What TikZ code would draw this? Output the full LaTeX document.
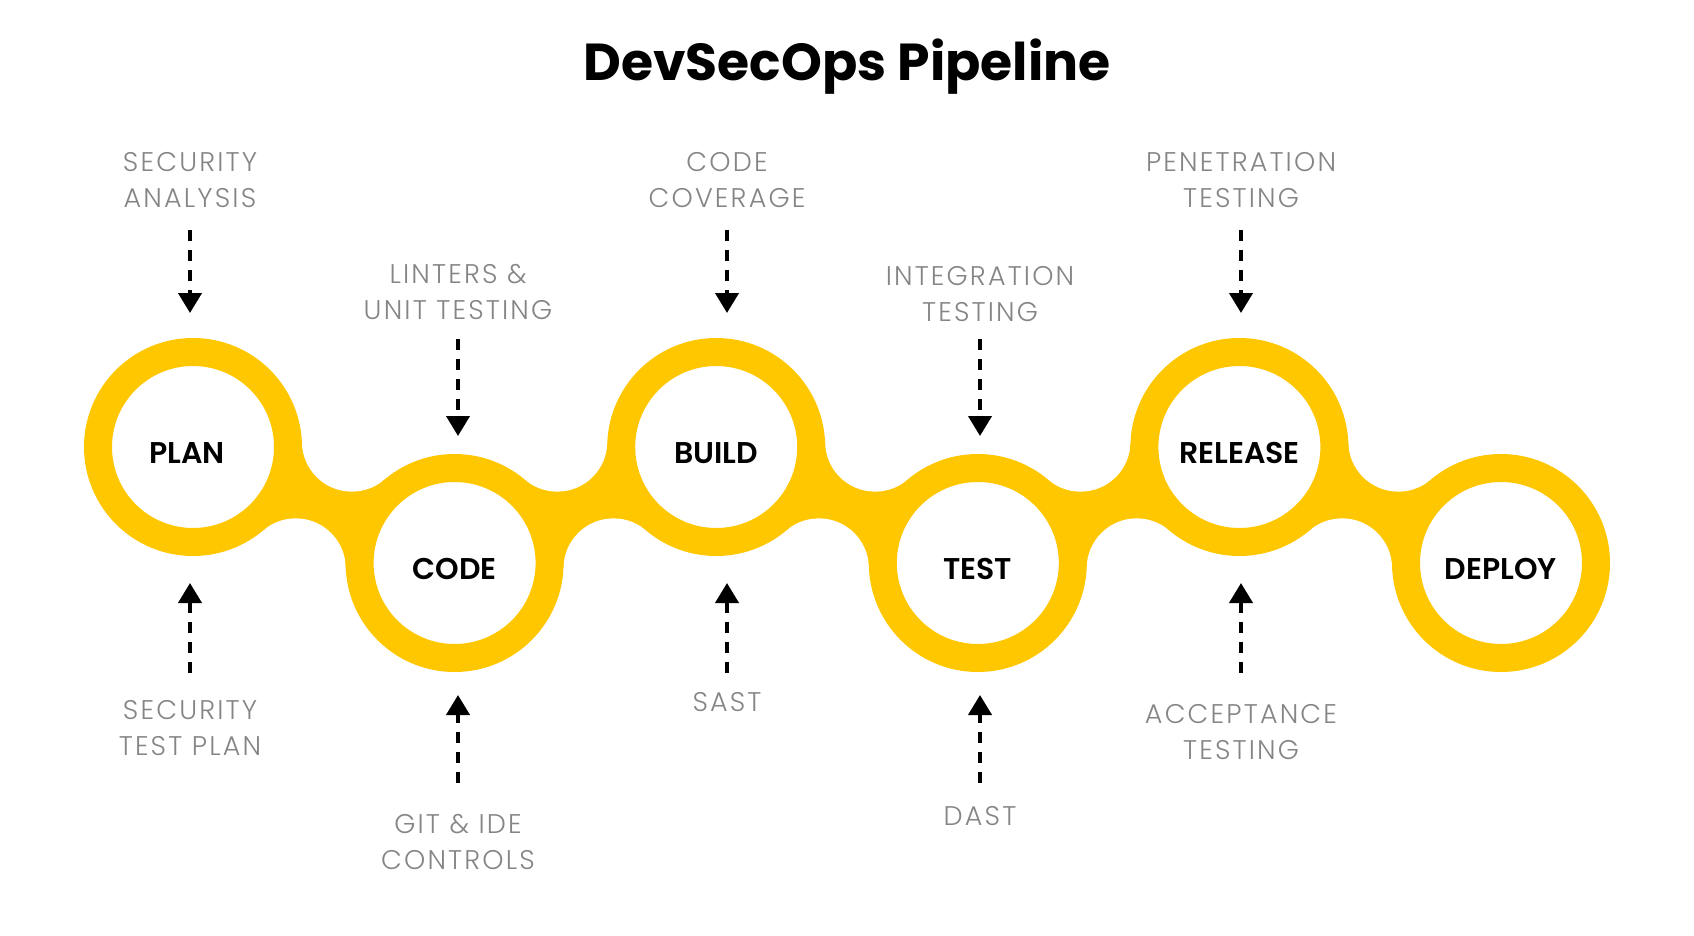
\documentclass[tikz,border=0pt]{standalone}
\usepackage{fontspec}
\setmainfont{Poppins}
\newfontfamily\lightfont{Poppins Light}[LetterSpace=8]
\newfontfamily\stagefont{Poppins SemiBold}
\usetikzlibrary{positioning,calc,backgrounds,arrows.meta}
\definecolor{pipeyellow}{HTML}{FFC700}
\definecolor{notegray}{HTML}{858585}

\tikzset{
  stage/.style={circle,draw=pipeyellow,line width=28pt,fill=white,minimum size=190pt,
    inner sep=0pt,text height=32pt,text depth=0pt,font=\stagefont\fontsize{30}{36}\selectfont},
  note/.style={align=center,inner sep=0pt,text=notegray,
    font=\lightfont\fontsize{27}{36}\selectfont},
  feed/.style={-{Triangle[width=23pt,length=20pt]},line width=4pt,dash pattern=on 11pt off 9pt},
}

\begin{document}
\begin{tikzpicture}[x=1pt,y=-1pt,on grid]
   \useasboundingbox (0,0) rectangle (1694,936);
   \node[font=\bfseries\fontsize{52}{60}\selectfont,anchor=base] (title) at (847,81) {DevSecOps Pipeline};

   % Stufen
   \node[stage] (plan) at (193,447) {PLAN\kern12pt};
   \node[stage] (code) [below right=116pt and 261.6pt of plan] {CODE};
   \node[stage] (build) [above right=116pt and 261.6pt of code] {BUILD};
   \node[stage] (test) [below right=116pt and 261.6pt of build] {TEST};
   \node[stage] (release) [above right=116pt and 261.6pt of test] {RELEASE};
   \node[stage] (deploy) [below right=116pt and 261.6pt of release] {DEPLOY};

   % Verbindungen
   \begin{scope}[on background layer]
   \foreach \a/\b in {plan/code,code/build,build/test,test/release,release/deploy} {
     \path ($(\a.center)!0.5!(\b.center)!69.3pt!90:(\b.center)$) coordinate (f1)
           ($(\a.center)!0.5!(\b.center)!69.3pt!-90:(\b.center)$) coordinate (f2);
     \fill[pipeyellow] (\a.center) -- (f1) -- (\b.center) -- (f2) -- cycle;
     \fill[white] (f1) circle[radius=50pt] (f2) circle[radius=50pt];
   }
   \end{scope}

   % Oben
   \node[note] (secana) at (190,180.5) {SECURITY\\ANALYSIS};
   \node[note] (lint) at (458,292.5) {LINTERS \&\\UNIT TESTING};
   \node[note] (cover) at (727,180.5) {CODE\\COVERAGE};
   \node[note] (integ) at (980,294.5) {INTEGRATION\\TESTING};
   \node[note] (pentest) at (1241,180.5) {PENETRATION\\TESTING};

   % Unten
   \node[note] (sectp) at (190,728) {SECURITY\\TEST PLAN};
   \node[note] (gitide) at (458,842) {GIT \& IDE\\CONTROLS};
   \node[note] (sast) at (727,702) {SAST};
   \node[note] (dast) at (980,816) {DAST};
   \node[note] (accept) at (1241,732.5) {ACCEPTANCE\\TESTING};

   \draw[feed,shorten <=22pt,shorten >=25pt] (secana.south) -- (secana.south |- plan.north);
   \draw[feed,shorten <=19pt,shorten >=18pt] (lint.south) -- (lint.south |- code.north);
   \draw[feed,shorten <=22pt,shorten >=25pt] (cover.south) -- (cover.south |- build.north);
   \draw[feed,shorten <=17pt,shorten >=18pt] (integ.south) -- (integ.south |- test.north);
   \draw[feed,shorten <=22pt,shorten >=25pt] (pentest.south) -- (pentest.south |- release.north);

   \draw[feed,shorten <=27.5pt,shorten >=27pt] (sectp.north) -- (sectp.north |- plan.south);
   \draw[feed,shorten <=31.5pt,shorten >=23pt] (gitide.north) -- (gitide.north |- code.south);
   \draw[feed,shorten <=19.5pt,shorten >=27pt] (sast.north) -- (sast.north |- build.south);
   \draw[feed,shorten <=23.5pt,shorten >=23pt] (dast.north) -- (dast.north |- test.south);
   \draw[feed,shorten <=32pt,shorten >=27pt] (accept.north) -- (accept.north |- release.south);
\end{tikzpicture}
\end{document}
